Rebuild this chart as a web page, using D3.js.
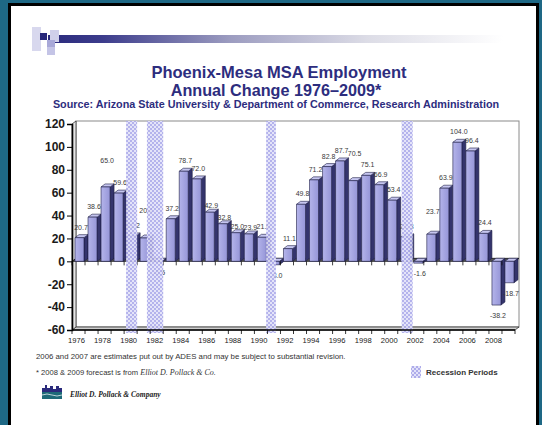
<!DOCTYPE html>
<html><head><meta charset="utf-8">
<script src="https://cdn.jsdelivr.net/npm/d3@7/dist/d3.min.js"></script>
<style>body{margin:0;overflow:hidden;background:#fff}</style>
</head><body><svg id="c" width="542" height="425"></svg>
<script>
// ---------- data ----------
const years = [1976,1977,1978,1979,1980,1981,1982,1983,1984,1985,1986,1987,1988,1989,1990,1991,1992,1993,1994,1995,1996,1997,1998,1999,2000,2001,2002,2003,2004,2005,2006,2007,2008,2009];
const changes = [20.7,38.6,65.0,59.6,22.2,20.4,-0.5,37.2,78.7,72.0,42.9,32.8,25.0,23.9,21.0,-3.0,11.1,49.8,71.2,82.8,87.7,70.5,75.1,66.9,53.4,21.3,-1.6,23.7,63.9,104.0,96.4,24.4,-38.2,-18.7];
const yTicks = [-60,-40,-20,0,20,40,60,80,100,120];
const xTickLabels = [1976,1978,1980,1982,1984,1986,1988,1990,1992,1994,1996,1998,2000,2002,2004,2006,2008];
const recessionStart = [1980.15,1981.75,1990.9,2001.3];
const recessionEnd   = [1981.0,1983.0,1991.65,2002.15];
const titleLines = ["Phoenix-Mesa MSA Employment","Annual Change 1976\u20132009*"];
const subtitle = "Source: Arizona State University & Department of Commerce, Research Administration";

// layout tweak: some data labels were moved by hand in the original chart
const labelNudge = {1978:-16, 1981:-17, 1986:4, 1987:4, 1988:4, 1989:4, 1997:-17, 2003:-12};

const svg = d3.select("#c");
const FONT = "Arial, 'Liberation Sans', sans-serif";
const SERIF = "'Liberation Serif', 'Times New Roman', serif";
const NAVY = "#2d2d7e";

// ---------- frame ----------
svg.append("rect").attr("width",542).attr("height",425).attr("fill","#1e6885");
svg.append("rect").attr("x",8).attr("y",3).attr("width",531).attr("height",430).attr("fill","#000");
svg.append("rect").attr("x",11).attr("y",6).attr("width",525).attr("height",430).attr("fill","#fff");

const defs = svg.append("defs");
const g1 = defs.append("linearGradient").attr("id","hdr");
[[0,"#2a2a7c"],[0.12,"#3c3c8c"],[0.4,"#9c9cc0"],[0.7,"#dcdce6"],[1,"#ffffff"]].forEach(s=>g1.append("stop").attr("offset",s[0]).attr("stop-color",s[1]));
const pat = defs.append("pattern").attr("id","rec").attr("patternUnits","userSpaceOnUse").attr("width",4).attr("height",4);
pat.append("rect").attr("width",4).attr("height",4).attr("fill","#aeacea");
pat.append("circle").attr("cx",1).attr("cy",1).attr("r",1).attr("fill","#f4f4ff");
pat.append("circle").attr("cx",3).attr("cy",3).attr("r",1).attr("fill","#f4f4ff");
const fg = defs.append("linearGradient").attr("id","front").attr("x1",0).attr("x2",1);
fg.append("stop").attr("offset",0).attr("stop-color","#b4b4ea");
fg.append("stop").attr("offset",1).attr("stop-color","#9696d8");

// header decoration
svg.append("rect").attr("x",48).attr("y",35).attr("width",455).attr("height",8).attr("fill","url(#hdr)");
[[32,27,9,24,"#d8d8ee"],[50,30,9,12,"#d0d0ea"],[40,33,7,7,"#28287a"],[47,40,8,7,"#a8a8d8"],[47,47,8,8,"#c4c4e6"]]
  .forEach(r=>svg.append("rect").attr("x",r[0]).attr("y",r[1]).attr("width",r[2]).attr("height",r[3]).attr("fill",r[4]));

// titles
svg.append("text").attr("x",279).attr("y",78).attr("text-anchor","middle").attr("font-family",FONT).attr("font-weight","bold").attr("font-size",16.5).attr("fill",NAVY).text(titleLines[0]);
svg.append("text").attr("x",276).attr("y",96).attr("text-anchor","middle").attr("font-family",FONT).attr("font-weight","bold").attr("font-size",16.2).attr("fill",NAVY).text(titleLines[1]);
svg.append("text").attr("x",276).attr("y",108).attr("text-anchor","middle").attr("font-family",FONT).attr("font-weight","bold").attr("font-size",10.8).attr("fill",NAVY).text(subtitle);

// ---------- chart geometry ----------
const DX = 4, DY = 3;                  // 3D depth offset
const x = d3.scaleBand().domain(years).range([72,515]).paddingInner(0).paddingOuter(0);
const xLin = d3.scaleLinear().domain([1976,2010]).range([72,515]);
const y = d3.scaleLinear().domain([-60,120]).range([330,124]);

// back wall & floor
svg.append("rect").attr("x",72+DX).attr("y",124-DY).attr("width",515-72).attr("height",330-124)
  .attr("fill","#fff").attr("stroke","#8a8a8a").attr("stroke-width",1);
svg.append("path").attr("d",`M72,${y(-60)}L${72+DX},${y(-60)-DY}L${515+DX},${y(-60)-DY}L515,${y(-60)}Z`).attr("fill","#cfcfcf").attr("stroke","#333").attr("stroke-width",0.8);
svg.append("path").attr("d",`M72,${y(120)}L${72+DX},${y(120)-DY}L${72+DX},${y(-60)-DY}L72,${y(-60)}Z`).attr("fill","#e4e4e4").attr("stroke","#333").attr("stroke-width",0.8);

// zero plane
svg.append("path").attr("d",`M72,${y(0)}L${72+DX},${y(0)-DY}L${515+DX},${y(0)-DY}L515,${y(0)}Z`).attr("fill","#555").attr("stroke","#111").attr("stroke-width",0.8);

// bars
const bw = 9, off = 3;
const bars = svg.append("g");
years.forEach((yr,i)=>{
  const v = changes[i];
  const x0 = x(yr)+off, x1 = x0+bw;
  const yv = y(v), y0 = y(0);
  const top = Math.min(yv,y0), bot = Math.max(yv,y0);
  const g = bars.append("g").attr("stroke","#1c1c44").attr("stroke-width",0.6).attr("stroke-linejoin","round");
  g.append("path").attr("d",`M${x1},${top}L${x1+DX},${top-DY}L${x1+DX},${bot-DY}L${x1},${bot}Z`).attr("fill","#34346c");
  g.append("path").attr("d",`M${x0},${top}L${x0+DX},${top-DY}L${x1+DX},${top-DY}L${x1},${top}Z`).attr("fill","#c6c6f0");
  g.append("rect").attr("x",x0).attr("y",top).attr("width",bw).attr("height",Math.max(bot-top,0.5)).attr("fill","url(#front)");
});

// value labels
svg.append("g").selectAll("text").data(years).join("text")
  .attr("x",(d)=>x(d)+off+bw/2+1.5)
  .attr("y",(d,i)=>(changes[i]>=0 ? y(changes[i])-8 : y(changes[i])+13) + (labelNudge[d]||0))
  .attr("text-anchor","middle").attr("font-family",FONT).attr("font-size",7).attr("fill","#3a3a3a")
  .text((d,i)=>changes[i].toFixed(1));

// zero-line ticks
svg.append("g").selectAll("line").data(years).join("line")
  .attr("x1",d=>x(d)).attr("x2",d=>x(d)).attr("y1",y(0)).attr("y2",y(0)+4).attr("stroke","#111").attr("stroke-width",0.8);

// recession bands
svg.append("g").selectAll("rect").data(recessionStart).join("rect")
  .attr("x",(d)=>xLin(d)).attr("y",121).attr("width",(d,i)=>xLin(recessionEnd[i])-xLin(d)).attr("height",212)
  .attr("fill","url(#rec)").attr("opacity",0.92);

// axes
const yAxis = d3.axisLeft(y).tickValues(yTicks).tickSize(5).tickPadding(2).tickFormat(d=>String(d));
const ya = svg.append("g").attr("transform","translate(72,0)").call(yAxis);
ya.select(".domain").attr("stroke","#000").attr("stroke-width",1.6);
ya.selectAll(".tick line").attr("stroke","#000");
ya.selectAll("text").attr("font-family",FONT).attr("font-weight","bold").attr("font-size",12).attr("fill","#1a1a1a");

const xAxis = d3.axisBottom(x).tickValues(xTickLabels).tickSize(0).tickPadding(8).tickFormat(d=>String(d));
const xa = svg.append("g").attr("transform",`translate(-2,${y(-60)})`).call(xAxis);
xa.select(".domain").remove();
xa.selectAll("text").attr("font-family",FONT).attr("font-size",7.6).attr("fill","#222");
svg.append("line").attr("x1",72).attr("x2",515).attr("y1",y(-60)).attr("y2",y(-60)).attr("stroke","#000").attr("stroke-width",1.4);
svg.append("g").selectAll("line").data(years.concat([2010])).join("line")
  .attr("x1",d=>xLin(d)).attr("x2",d=>xLin(d)).attr("y1",y(-60)).attr("y2",y(-60)+4).attr("stroke","#000").attr("stroke-width",0.8);

// footnotes
svg.append("text").attr("x",36).attr("y",359).attr("font-family",FONT).attr("font-size",7.8).attr("fill","#333")
  .text("2006 and 2007 are estimates put out by ADES and may be subject to substantial revision.");
const fn2 = svg.append("text").attr("x",36).attr("y",375).attr("font-family",FONT).attr("font-size",7.6).attr("fill","#333");
fn2.append("tspan").text("* 2008 & 2009 forecast is from ");
fn2.append("tspan").attr("font-family",SERIF).attr("font-style","italic").attr("font-size",8).text("Elliot D. Pollack & Co.");

// legend
svg.append("rect").attr("x",411).attr("y",366).attr("width",10).attr("height",12).attr("fill","url(#rec)");
svg.append("text").attr("x",426).attr("y",375).attr("font-family",FONT).attr("font-weight","bold").attr("font-size",8).attr("fill","#333").text("Recession Periods");

// logo
const lg = svg.append("g");
lg.append("path").attr("d","M42,392L42,388L45,388L45,385L47,385L47,388L50,388L50,386L53,386L53,389L56,389L56,386L59,386L59,388L62,388L62,392Z").attr("fill","#2a2a7c");
lg.append("rect").attr("x",42).attr("y",392).attr("width",20).attr("height",7).attr("fill","#1d6a78");
lg.append("path").attr("d","M42,395Q47,393 52,395T62,395").attr("fill","none").attr("stroke","#fff").attr("stroke-width",0.7);
svg.append("text").attr("x",70).attr("y",397).attr("font-family",SERIF).attr("font-style","italic").attr("font-weight","bold").attr("font-size",7.5).attr("fill","#222").text("Elliot D. Pollack & Company");
</script></body></html>
